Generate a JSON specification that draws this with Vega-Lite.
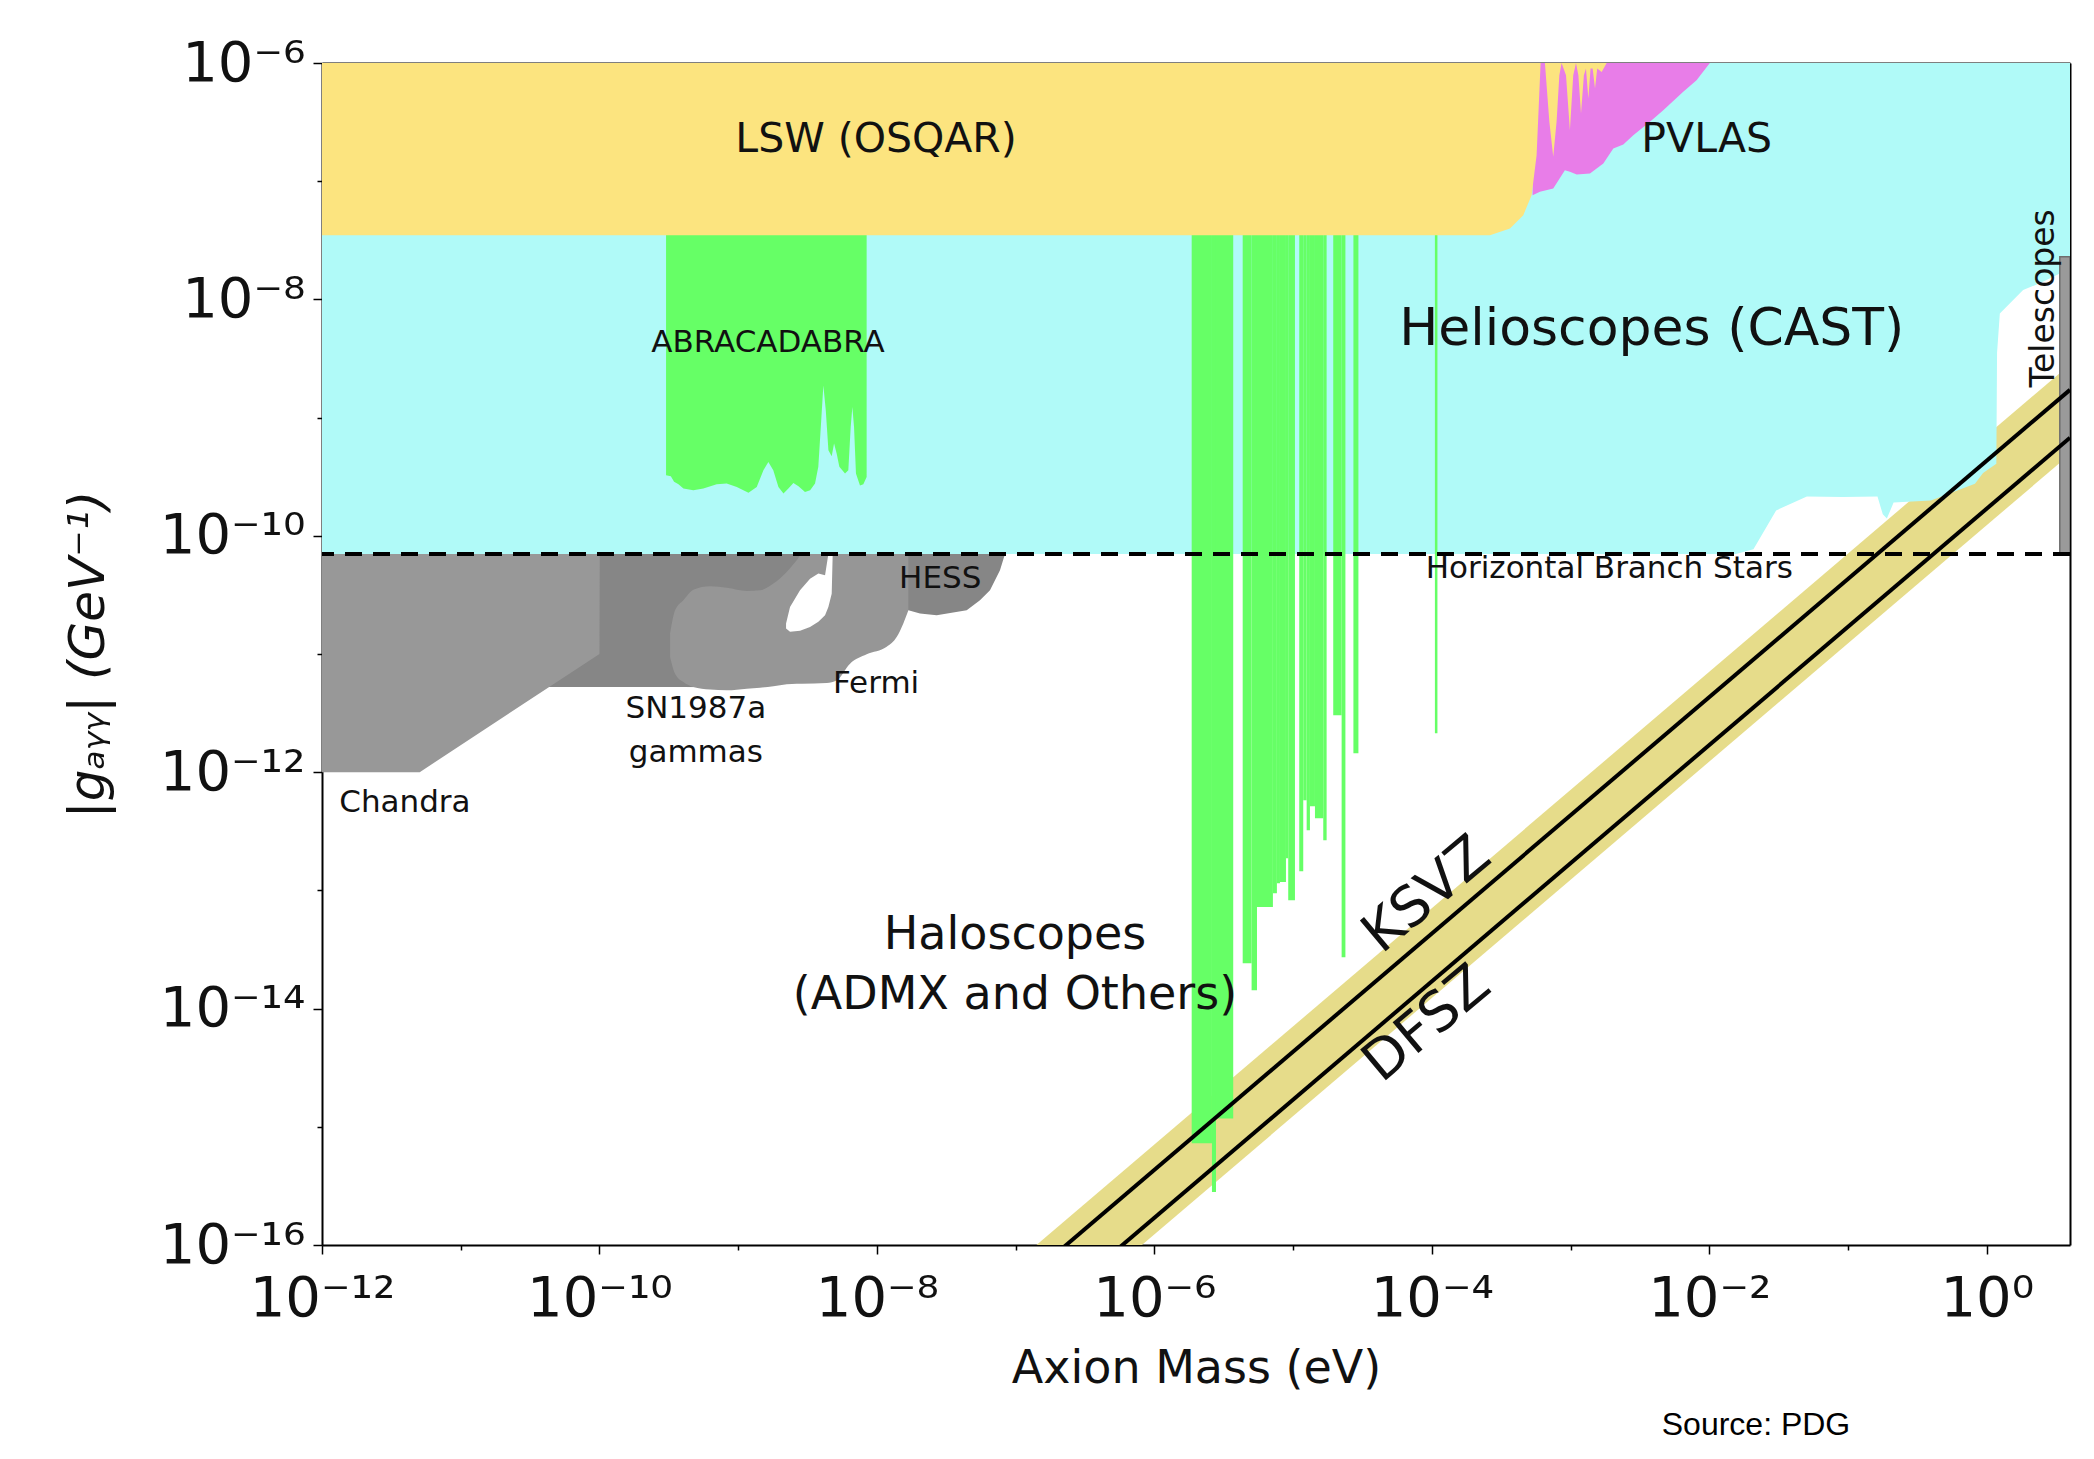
{
  "$schema": "https://vega.github.io/schema/vega-lite/v6.json",
  "width": 1748,
  "height": 1182,
  "autosize": {"type": "none"},
  "padding": {"left": 322, "top": 63, "right": 24, "bottom": 214},
  "background": "white",
  "config": {
    "view": {"stroke": null},
    "axis": {"grid": false, "domainColor": "#000000", "domainWidth": 2, "tickColor": "#000000", "tickWidth": 1.5,
      "labelFont": "DejaVu Sans", "labelFontSize": 56, "labelColor": "#111111",
      "titleFont": "DejaVu Sans", "titleFontSize": 46, "titleFontWeight": "normal", "titleColor": "#111111", "zindex": 1},
    "text": {"font": "DejaVu Sans", "color": "#111111"}
  },
  "resolve": {"axis": {"x": "independent", "y": "independent"}},
  "datasets": {
    "band": [
      {"m": 1e-7, "lo": 1.23e-17, "hi": 7.08e-17},
      {"m": 3.98, "lo": 4.90e-10, "hi": 2.82e-9}
    ],
    "cyan": [
      {"m": 1e-12, "lo": 7.03e-11}, {"m": 0.01556, "lo": 7.03e-11}, {"m": 0.0208, "lo": 7.71e-11},
      {"m": 0.0303, "lo": 1.64e-10}, {"m": 0.0505, "lo": 2.15e-10}, {"m": 0.0916, "lo": 2.13e-10},
      {"m": 0.163, "lo": 2.15e-10}, {"m": 0.178, "lo": 1.52e-10}, {"m": 0.1905, "lo": 1.40e-10},
      {"m": 0.213, "lo": 1.91e-10}, {"m": 0.396, "lo": 1.99e-10}, {"m": 0.822, "lo": 2.76e-10},
      {"m": 0.94, "lo": 3.40e-10}, {"m": 1.172, "lo": 4.07e-10}, {"m": 1.186, "lo": 3.53e-9},
      {"m": 1.242, "lo": 7.60e-9}, {"m": 1.828, "lo": 1.20e-8}, {"m": 2.41, "lo": 1.37e-8},
      {"m": 3.365, "lo": 1.66e-8}, {"m": 3.37, "lo": 2.27e-8}, {"m": 3.98, "lo": 2.27e-8}
    ],
    "abra": [
      {"m": 3.02e-10, "lo": 3.25e-10}, {"m": 3.27e-10, "lo": 3.19e-10}, {"m": 3.45e-10, "lo": 2.86e-10},
      {"m": 3.71e-10, "lo": 2.73e-10}, {"m": 4.03e-10, "lo": 2.51e-10}, {"m": 4.75e-10, "lo": 2.43e-10},
      {"m": 5.61e-10, "lo": 2.51e-10}, {"m": 7.00e-10, "lo": 2.73e-10}, {"m": 8.26e-10, "lo": 2.77e-10},
      {"m": 9.77e-10, "lo": 2.59e-10}, {"m": 1.186e-9, "lo": 2.31e-10}, {"m": 1.36e-9, "lo": 2.59e-10},
      {"m": 1.52e-9, "lo": 3.58e-10}, {"m": 1.65e-9, "lo": 4.22e-10}, {"m": 1.79e-9, "lo": 3.58e-10},
      {"m": 1.95e-9, "lo": 2.59e-10}, {"m": 2.12e-9, "lo": 2.28e-10}, {"m": 2.30e-9, "lo": 2.51e-10},
      {"m": 2.50e-9, "lo": 2.80e-10}, {"m": 2.72e-9, "lo": 2.62e-10}, {"m": 3.03e-9, "lo": 2.35e-10},
      {"m": 3.30e-9, "lo": 2.43e-10}, {"m": 3.58e-9, "lo": 2.77e-10}, {"m": 3.78e-9, "lo": 3.83e-10},
      {"m": 3.94e-9, "lo": 8.34e-10}, {"m": 4.11e-9, "lo": 1.87e-9}, {"m": 4.28e-9, "lo": 1.15e-9},
      {"m": 4.47e-9, "lo": 5.30e-10}, {"m": 4.72e-9, "lo": 4.71e-10}, {"m": 4.91e-9, "lo": 6.03e-10},
      {"m": 5.13e-9, "lo": 4.95e-10}, {"m": 5.36e-9, "lo": 3.83e-10}, {"m": 5.89e-9, "lo": 3.36e-10},
      {"m": 6.22e-9, "lo": 3.58e-10}, {"m": 6.47e-9, "lo": 8.34e-10}, {"m": 6.65e-9, "lo": 1.23e-9},
      {"m": 6.84e-9, "lo": 8.34e-10}, {"m": 7.06e-9, "lo": 3.36e-10}, {"m": 7.55e-9, "lo": 2.67e-10},
      {"m": 7.98e-9, "lo": 2.73e-10}, {"m": 8.43e-9, "lo": 3.15e-10}
    ],
    "halo": [
      {"m1": 1.857e-6, "m2": 2.60e-6, "g": 7.25e-16},
      {"m1": 2.60e-6, "m2": 2.78e-6, "g": 2.81e-16},
      {"m1": 2.78e-6, "m2": 3.70e-6, "g": 1.173e-15},
      {"m1": 4.33e-6, "m2": 5.02e-6, "g": 2.416e-14},
      {"m1": 5.02e-6, "m2": 5.49e-6, "g": 1.428e-14},
      {"m1": 5.49e-6, "m2": 7.15e-6, "g": 7.236e-14},
      {"m1": 7.15e-6, "m2": 7.64e-6, "g": 9.45e-14},
      {"m1": 7.64e-6, "m2": 8.04e-6, "g": 1.148e-13},
      {"m1": 8.04e-6, "m2": 8.88e-6, "g": 1.178e-13},
      {"m1": 8.88e-6, "m2": 9.22e-6, "g": 1.869e-13},
      {"m1": 9.22e-6, "m2": 1.031e-5, "g": 8.245e-14},
      {"m1": 1.107e-5, "m2": 1.183e-5, "g": 1.451e-13},
      {"m1": 1.183e-5, "m2": 1.252e-5, "g": 5.786e-13},
      {"m1": 1.252e-5, "m2": 1.322e-5, "g": 3.225e-13},
      {"m1": 1.322e-5, "m2": 1.437e-5, "g": 5.147e-13},
      {"m1": 1.437e-5, "m2": 1.649e-5, "g": 4.074e-13},
      {"m1": 1.649e-5, "m2": 1.744e-5, "g": 2.654e-13},
      {"m1": 1.946e-5, "m2": 2.237e-5, "g": 3.03e-12},
      {"m1": 2.237e-5, "m2": 2.382e-5, "g": 2.716e-14},
      {"m1": 2.72e-5, "m2": 2.956e-5, "g": 1.445e-12},
      {"m1": 1.052e-4, "m2": 1.097e-4, "g": 2.134e-12}
    ],
    "pvlas": [
      {"m": 5.321e-4, "lo": 7.62e-8}, {"m": 6.012e-4, "lo": 8.13e-8}, {"m": 7.499e-4, "lo": 8.67e-8},
      {"m": 9.10e-4, "lo": 1.24e-7}, {"m": 9.886e-4, "lo": 1.20e-7}, {"m": 1.107e-3, "lo": 1.14e-7},
      {"m": 1.38e-3, "lo": 1.16e-7}, {"m": 1.722e-3, "lo": 1.41e-7}, {"m": 2.032e-3, "lo": 1.89e-7},
      {"m": 2.399e-3, "lo": 2.04e-7}, {"m": 2.831e-3, "lo": 2.45e-7}, {"m": 3.733e-3, "lo": 3.18e-7},
      {"m": 4.656e-3, "lo": 3.99e-7}, {"m": 6.486e-3, "lo": 5.70e-7}, {"m": 8.091e-3, "lo": 7.14e-7},
      {"m": 1.009e-2, "lo": 1e-6}
    ],
    "lsw": [
      {"m": 1e-12, "lo": 3.49e-8}, {"m": 2.624e-4, "lo": 3.49e-8}, {"m": 3.656e-4, "lo": 3.98e-8},
      {"m": 4.56e-4, "lo": 5.15e-8}, {"m": 5.236e-4, "lo": 7.62e-8}, {"m": 5.689e-4, "lo": 1.66e-7},
      {"m": 5.943e-4, "lo": 5.35e-7}, {"m": 6.081e-4, "lo": 1e-6}, {"m": 6.531e-4, "lo": 1e-6},
      {"m": 7.031e-4, "lo": 3.18e-7}, {"m": 7.499e-4, "lo": 1.61e-7}, {"m": 7.925e-4, "lo": 3.18e-7},
      {"m": 8.299e-4, "lo": 7.89e-7}, {"m": 8.61e-4, "lo": 1e-6}, {"m": 9.268e-4, "lo": 7.89e-7},
      {"m": 9.886e-4, "lo": 2.70e-7}, {"m": 1.045e-3, "lo": 7.89e-7}, {"m": 1.094e-3, "lo": 1e-6},
      {"m": 1.138e-3, "lo": 7.89e-7}, {"m": 1.189e-3, "lo": 3.73e-7}, {"m": 1.247e-3, "lo": 7.89e-7},
      {"m": 1.291e-3, "lo": 8.97e-7}, {"m": 1.343e-3, "lo": 5.00e-7}, {"m": 1.393e-3, "lo": 8.97e-7},
      {"m": 1.442e-3, "lo": 8.97e-7}, {"m": 1.5e-3, "lo": 6.08e-7}, {"m": 1.556e-3, "lo": 8.97e-7},
      {"m": 1.675e-3, "lo": 8.41e-7}, {"m": 1.82e-3, "lo": 1e-6}
    ],
    "chandra": [
      {"m": 1e-12, "lo": 1e-12, "hi": 7.03e-11}, {"m": 5.06e-12, "lo": 1e-12, "hi": 7.03e-11},
      {"m": 4.34e-11, "lo": 5.27e-12, "hi": 7.03e-11}, {"m": 1.01e-10, "lo": 5.27e-12, "hi": 7.03e-11}
    ],
    "dark": [
      {"m": 4.34e-11, "lo": 5.27e-12, "hi": 5.27e-12}, {"m": 1.0e-10, "lo": 5.27e-12, "hi": 1.0e-11},
      {"m": 1.005e-10, "lo": 5.27e-12, "hi": 7.03e-11}, {"m": 4.027e-10, "lo": 5.26e-12, "hi": 7.03e-11},
      {"m": 1.152e-9, "lo": 5.2e-12, "hi": 7.03e-11}, {"m": 1.313e-8, "lo": 2.34e-11, "hi": 7.03e-11},
      {"m": 1.685e-8, "lo": 2.34e-11, "hi": 7.03e-11}, {"m": 2.045e-8, "lo": 2.20e-11, "hi": 7.03e-11},
      {"m": 2.696e-8, "lo": 2.13e-11, "hi": 7.03e-11}, {"m": 4.436e-8, "lo": 2.34e-11, "hi": 7.03e-11},
      {"m": 5.53e-8, "lo": 2.85e-11, "hi": 7.03e-11}, {"m": 6.531e-8, "lo": 3.46e-11, "hi": 7.03e-11},
      {"m": 7.709e-8, "lo": 5.11e-11, "hi": 7.03e-11}, {"m": 8.377e-8, "lo": 7.03e-11, "hi": 7.03e-11}
    ],
    "fermi": [
      {"m": 3.228e-10, "lo": 9.44e-12, "hi": 1.49e-11}, {"m": 3.507e-10, "lo": 6.82e-12, "hi": 2.34e-11},
      {"m": 4.027e-10, "lo": 5.80e-12, "hi": 2.85e-11}, {"m": 4.754e-10, "lo": 5.26e-12, "hi": 3.50e-11},
      {"m": 6.269e-10, "lo": 5.00e-12, "hi": 3.74e-11}, {"m": 8.266e-10, "lo": 4.93e-12, "hi": 3.64e-11},
      {"m": 1.152e-9, "lo": 5.09e-12, "hi": 3.42e-11}, {"m": 1.437e-9, "lo": 5.19e-12, "hi": 3.46e-11},
      {"m": 1.793e-9, "lo": 5.33e-12, "hi": 3.94e-11}, {"m": 2.237e-9, "lo": 5.54e-12, "hi": 4.94e-11},
      {"m": 2.641e-9, "lo": 5.61e-12, "hi": 6.21e-11}, {"m": 2.869e-9, "lo": 5.61e-12, "hi": 7.03e-11},
      {"m": 4.345e-9, "lo": 5.69e-12, "hi": 7.03e-11}, {"m": 5.129e-9, "lo": 5.99e-12, "hi": 7.03e-11},
      {"m": 6.399e-9, "lo": 8.29e-12, "hi": 7.03e-11}, {"m": 8.437e-9, "lo": 9.95e-12, "hi": 7.03e-11},
      {"m": 1.176e-8, "lo": 1.15e-11, "hi": 7.03e-11}, {"m": 1.388e-8, "lo": 1.39e-11, "hi": 7.03e-11},
      {"m": 1.55e-8, "lo": 1.81e-11, "hi": 7.03e-11}, {"m": 1.685e-8, "lo": 2.34e-11, "hi": 7.03e-11}
    ],
    "hole": [
      {"m": 2.213e-9, "lo": 1.64e-11, "hi": 1.81e-11}, {"m": 2.364e-9, "lo": 1.54e-11, "hi": 2.50e-11},
      {"m": 2.791e-9, "lo": 1.57e-11, "hi": 3.46e-11}, {"m": 3.295e-9, "lo": 1.69e-11, "hi": 4.34e-11},
      {"m": 3.784e-9, "lo": 1.87e-11, "hi": 4.79e-11}, {"m": 4.227e-9, "lo": 2.13e-11, "hi": 4.63e-11},
      {"m": 4.467e-9, "lo": 2.50e-11, "hi": 7.03e-11}, {"m": 4.721e-9, "lo": 3.24e-11, "hi": 7.03e-11},
      {"m": 4.8e-9, "lo": 7.03e-11, "hi": 7.03e-11}
    ],
    "tele": [{"m1": 3.36, "m2": 3.98, "lo": 7.03e-11, "hi": 2.29e-8}],
    "hb": [{"g": 7.03e-11}],
    "models": [
      {"model": "KSVZ", "m": 1e-7, "g": 4.32e-17}, {"model": "KSVZ", "m": 3.98, "g": 1.72e-9},
      {"model": "DFSZ", "m": 1e-7, "g": 1.70e-17}, {"model": "DFSZ", "m": 3.98, "g": 6.76e-10}
    ],
    "labels": [
      {"label": "ABRACADABRA", "m": 1.64e-9, "g": 4.24e-9, "grp": "small"},
      {"label": "HESS", "m": 2.86e-8, "g": 4.35e-11, "grp": "small"},
      {"label": "Fermi", "m": 9.86e-9, "g": 5.57e-12, "grp": "small"},
      {"label": "SN1987a", "m": 4.95e-10, "g": 3.40e-12, "grp": "small"},
      {"label": "gammas", "m": 4.95e-10, "g": 1.44e-12, "grp": "small"},
      {"label": "Chandra", "m": 3.96e-12, "g": 5.50e-13, "grp": "small"},
      {"label": "Horizontal Branch Stars", "m": 1.90e-3, "g": 5.22e-11, "grp": "small"},
      {"label": "LSW (OSQAR)", "m": 9.86e-9, "g": 2.21e-7, "grp": "mid"},
      {"label": "PVLAS", "m": 9.57e-3, "g": 2.21e-7, "grp": "mid"},
      {"label": "Helioscopes (CAST)", "m": 3.85e-3, "g": 5.64e-9, "grp": "big"},
      {"label": "Haloscopes", "m": 9.89e-8, "g": 4.18e-14, "grp": "halo"},
      {"label": "(ADMX and Others)", "m": 9.89e-8, "g": 1.30e-14, "grp": "halo"},
      {"label": "KSVZ", "m": 9.18e-5, "g": 9.18e-14, "grp": "model"},
      {"label": "DFSZ", "m": 9.18e-5, "g": 7.43e-15, "grp": "model"},
      {"label": "Telescopes", "m": 2.58, "g": 1.02e-8, "grp": "tele"},
      {"label": "Source: PDG", "m": 0.0217, "g": 2.99e-18, "grp": "source"}
    ]
  },
  "layer": [
    {
      "data": {"name": "band"},
      "mark": {"type": "area", "color": "#E6DC8A", "clip": true},
      "encoding": {
        "x": {"field": "m", "type": "quantitative", "scale": {"type": "log", "domain": [1e-12, 3.98], "nice": false},
          "axis": {"orient": "bottom", "title": "Axion Mass (eV)",
            "values": [1e-12, 1e-11, 1e-10, 1e-9, 1e-8, 1e-7, 1e-6, 1e-5, 1e-4, 1e-3, 1e-2, 1e-1, 1],
            "labelExpr": "round(log(datum.value)/LN10) % 2 != 0 ? '' : '10' + (datum.value < 0.5 ? '⁻' : '') + (abs(round(log(datum.value)/LN10)) >= 10 ? '¹' : '') + ['⁰','¹','²','³','⁴','⁵','⁶','⁷','⁸','⁹'][abs(round(log(datum.value)/LN10)) % 10]",
            "tickSize": {"condition": {"test": "round(log(datum.value)/LN10) % 2 == 0", "value": 9}, "value": 5},
            "labelPadding": 17, "titlePadding": 20, "labelFlush": false, "labelOverlap": false, "labelBound": false}},
        "y": {"field": "lo", "type": "quantitative", "scale": {"type": "log", "domain": [1e-16, 1e-6], "nice": false},
          "axis": {"orient": "left", "title": "|gₐᵧᵧ| (GeV⁻¹)", "titleFontStyle": "italic", "titleFontSize": 50,
            "values": [1e-16, 1e-15, 1e-14, 1e-13, 1e-12, 1e-11, 1e-10, 1e-9, 1e-8, 1e-7, 1e-6],
            "labelExpr": "round(log(datum.value)/LN10) % 2 != 0 ? '' : '10' + (datum.value < 0.5 ? '⁻' : '') + (abs(round(log(datum.value)/LN10)) >= 10 ? '¹' : '') + ['⁰','¹','²','³','⁴','⁵','⁶','⁷','⁸','⁹'][abs(round(log(datum.value)/LN10)) % 10]",
            "tickSize": {"condition": {"test": "round(log(datum.value)/LN10) % 2 == 0", "value": 9}, "value": 5},
            "labelPadding": 8, "titlePadding": 46, "labelOverlap": false, "labelBound": false}},
        "y2": {"field": "hi"}
      }
    },
    {
      "data": {"name": "cyan"},
      "mark": {"type": "area", "color": "#B0FAF8", "clip": true},
      "encoding": {
        "x": {"field": "m", "type": "quantitative", "scale": {"type": "log", "domain": [1e-12, 3.98], "nice": false},
          "axis": {"orient": "top", "labels": false, "ticks": false, "title": null}},
        "y": {"field": "lo", "type": "quantitative", "scale": {"type": "log", "domain": [1e-16, 1e-6], "nice": false},
          "axis": {"orient": "right", "labels": false, "ticks": false, "title": null}},
        "y2": {"datum": 1e-6}
      }
    },
    {
      "data": {"name": "abra"},
      "mark": {"type": "area", "color": "#66FF66", "clip": true},
      "encoding": {
        "x": {"field": "m", "type": "quantitative", "scale": {"type": "log", "domain": [1e-12, 3.98], "nice": false}, "axis": null},
        "y": {"field": "lo", "type": "quantitative", "scale": {"type": "log", "domain": [1e-16, 1e-6], "nice": false}, "axis": null},
        "y2": {"datum": 1e-6}
      }
    },
    {
      "data": {"name": "halo"},
      "mark": {"type": "rect", "color": "#66FF66", "clip": true},
      "encoding": {
        "x": {"field": "m1", "type": "quantitative", "scale": {"type": "log", "domain": [1e-12, 3.98], "nice": false}, "axis": null},
        "x2": {"field": "m2"},
        "y": {"field": "g", "type": "quantitative", "scale": {"type": "log", "domain": [1e-16, 1e-6], "nice": false}, "axis": null},
        "y2": {"datum": 1e-6}
      }
    },
    {
      "data": {"name": "pvlas"},
      "mark": {"type": "area", "color": "#E87DE8", "clip": true},
      "encoding": {
        "x": {"field": "m", "type": "quantitative", "scale": {"type": "log", "domain": [1e-12, 3.98], "nice": false}, "axis": null},
        "y": {"field": "lo", "type": "quantitative", "scale": {"type": "log", "domain": [1e-16, 1e-6], "nice": false}, "axis": null},
        "y2": {"datum": 1e-6}
      }
    },
    {
      "data": {"name": "lsw"},
      "mark": {"type": "area", "color": "#FCE47F", "clip": true},
      "encoding": {
        "x": {"field": "m", "type": "quantitative", "scale": {"type": "log", "domain": [1e-12, 3.98], "nice": false}, "axis": null},
        "y": {"field": "lo", "type": "quantitative", "scale": {"type": "log", "domain": [1e-16, 1e-6], "nice": false}, "axis": null},
        "y2": {"datum": 1e-6}
      }
    },
    {
      "data": {"name": "chandra"},
      "mark": {"type": "area", "color": "#989898", "clip": true},
      "encoding": {
        "x": {"field": "m", "type": "quantitative", "scale": {"type": "log", "domain": [1e-12, 3.98], "nice": false}, "axis": null},
        "y": {"field": "lo", "type": "quantitative", "scale": {"type": "log", "domain": [1e-16, 1e-6], "nice": false}, "axis": null},
        "y2": {"field": "hi"}
      }
    },
    {
      "data": {"name": "dark"},
      "mark": {"type": "area", "color": "#868686", "clip": true},
      "encoding": {
        "x": {"field": "m", "type": "quantitative", "scale": {"type": "log", "domain": [1e-12, 3.98], "nice": false}, "axis": null},
        "y": {"field": "lo", "type": "quantitative", "scale": {"type": "log", "domain": [1e-16, 1e-6], "nice": false}, "axis": null},
        "y2": {"field": "hi"}
      }
    },
    {
      "data": {"name": "fermi"},
      "mark": {"type": "area", "color": "#969696", "clip": true, "interpolate": "monotone"},
      "encoding": {
        "x": {"field": "m", "type": "quantitative", "scale": {"type": "log", "domain": [1e-12, 3.98], "nice": false}, "axis": null},
        "y": {"field": "lo", "type": "quantitative", "scale": {"type": "log", "domain": [1e-16, 1e-6], "nice": false}, "axis": null},
        "y2": {"field": "hi"}
      }
    },
    {
      "data": {"name": "hole"},
      "mark": {"type": "area", "color": "#FFFFFF", "clip": true},
      "encoding": {
        "x": {"field": "m", "type": "quantitative", "scale": {"type": "log", "domain": [1e-12, 3.98], "nice": false}, "axis": null},
        "y": {"field": "lo", "type": "quantitative", "scale": {"type": "log", "domain": [1e-16, 1e-6], "nice": false}, "axis": null},
        "y2": {"field": "hi"}
      }
    },
    {
      "data": {"name": "tele"},
      "mark": {"type": "rect", "color": "#9A9A9A", "stroke": "#6E6E6E", "strokeWidth": 1.5, "clip": true},
      "encoding": {
        "x": {"field": "m1", "type": "quantitative", "scale": {"type": "log", "domain": [1e-12, 3.98], "nice": false}, "axis": null},
        "x2": {"field": "m2"},
        "y": {"field": "lo", "type": "quantitative", "scale": {"type": "log", "domain": [1e-16, 1e-6], "nice": false}, "axis": null},
        "y2": {"field": "hi"}
      }
    },
    {
      "data": {"name": "hb"},
      "mark": {"type": "rule", "color": "#000000", "strokeWidth": 4, "strokeDash": [17, 11], "clip": true},
      "encoding": {
        "y": {"field": "g", "type": "quantitative", "scale": {"type": "log", "domain": [1e-16, 1e-6], "nice": false}, "axis": null}
      }
    },
    {
      "data": {"name": "models"},
      "mark": {"type": "line", "color": "#000000", "strokeWidth": 4, "clip": true},
      "encoding": {
        "x": {"field": "m", "type": "quantitative", "scale": {"type": "log", "domain": [1e-12, 3.98], "nice": false}, "axis": null},
        "y": {"field": "g", "type": "quantitative", "scale": {"type": "log", "domain": [1e-16, 1e-6], "nice": false}, "axis": null},
        "detail": {"field": "model"}
      }
    },
    {
      "data": {"name": "labels"},
      "transform": [{"filter": "datum.grp == 'small'"}],
      "mark": {"type": "text", "fontSize": 31, "align": "center", "baseline": "middle"},
      "encoding": {
        "x": {"field": "m", "type": "quantitative", "scale": {"type": "log", "domain": [1e-12, 3.98], "nice": false}, "axis": null},
        "y": {"field": "g", "type": "quantitative", "scale": {"type": "log", "domain": [1e-16, 1e-6], "nice": false}, "axis": null},
        "text": {"field": "label"}
      }
    },
    {
      "data": {"name": "labels"},
      "transform": [{"filter": "datum.grp == 'mid'"}],
      "mark": {"type": "text", "fontSize": 41, "align": "center", "baseline": "middle"},
      "encoding": {
        "x": {"field": "m", "type": "quantitative", "scale": {"type": "log", "domain": [1e-12, 3.98], "nice": false}, "axis": null},
        "y": {"field": "g", "type": "quantitative", "scale": {"type": "log", "domain": [1e-16, 1e-6], "nice": false}, "axis": null},
        "text": {"field": "label"}
      }
    },
    {
      "data": {"name": "labels"},
      "transform": [{"filter": "datum.grp == 'big'"}],
      "mark": {"type": "text", "fontSize": 52, "align": "center", "baseline": "middle"},
      "encoding": {
        "x": {"field": "m", "type": "quantitative", "scale": {"type": "log", "domain": [1e-12, 3.98], "nice": false}, "axis": null},
        "y": {"field": "g", "type": "quantitative", "scale": {"type": "log", "domain": [1e-16, 1e-6], "nice": false}, "axis": null},
        "text": {"field": "label"}
      }
    },
    {
      "data": {"name": "labels"},
      "transform": [{"filter": "datum.grp == 'halo'"}],
      "mark": {"type": "text", "fontSize": 46, "align": "center", "baseline": "middle"},
      "encoding": {
        "x": {"field": "m", "type": "quantitative", "scale": {"type": "log", "domain": [1e-12, 3.98], "nice": false}, "axis": null},
        "y": {"field": "g", "type": "quantitative", "scale": {"type": "log", "domain": [1e-16, 1e-6], "nice": false}, "axis": null},
        "text": {"field": "label"}
      }
    },
    {
      "data": {"name": "labels"},
      "transform": [{"filter": "datum.grp == 'model'"}],
      "mark": {"type": "text", "fontSize": 55, "align": "center", "baseline": "middle", "angle": 320},
      "encoding": {
        "x": {"field": "m", "type": "quantitative", "scale": {"type": "log", "domain": [1e-12, 3.98], "nice": false}, "axis": null},
        "y": {"field": "g", "type": "quantitative", "scale": {"type": "log", "domain": [1e-16, 1e-6], "nice": false}, "axis": null},
        "text": {"field": "label"}
      }
    },
    {
      "data": {"name": "labels"},
      "transform": [{"filter": "datum.grp == 'tele'"}],
      "mark": {"type": "text", "fontSize": 33, "align": "center", "baseline": "middle", "angle": 270},
      "encoding": {
        "x": {"field": "m", "type": "quantitative", "scale": {"type": "log", "domain": [1e-12, 3.98], "nice": false}, "axis": null},
        "y": {"field": "g", "type": "quantitative", "scale": {"type": "log", "domain": [1e-16, 1e-6], "nice": false}, "axis": null},
        "text": {"field": "label"}
      }
    },
    {
      "data": {"name": "labels"},
      "transform": [{"filter": "datum.grp == 'source'"}],
      "mark": {"type": "text", "fontSize": 32, "align": "center", "baseline": "middle", "font": "Liberation Sans Narrow, Liberation Sans, sans-serif", "color": "#000000"},
      "encoding": {
        "x": {"field": "m", "type": "quantitative", "scale": {"type": "log", "domain": [1e-12, 3.98], "nice": false}, "axis": null},
        "y": {"field": "g", "type": "quantitative", "scale": {"type": "log", "domain": [1e-16, 1e-6], "nice": false}, "axis": null},
        "text": {"field": "label"}
      }
    }
  ]
}
